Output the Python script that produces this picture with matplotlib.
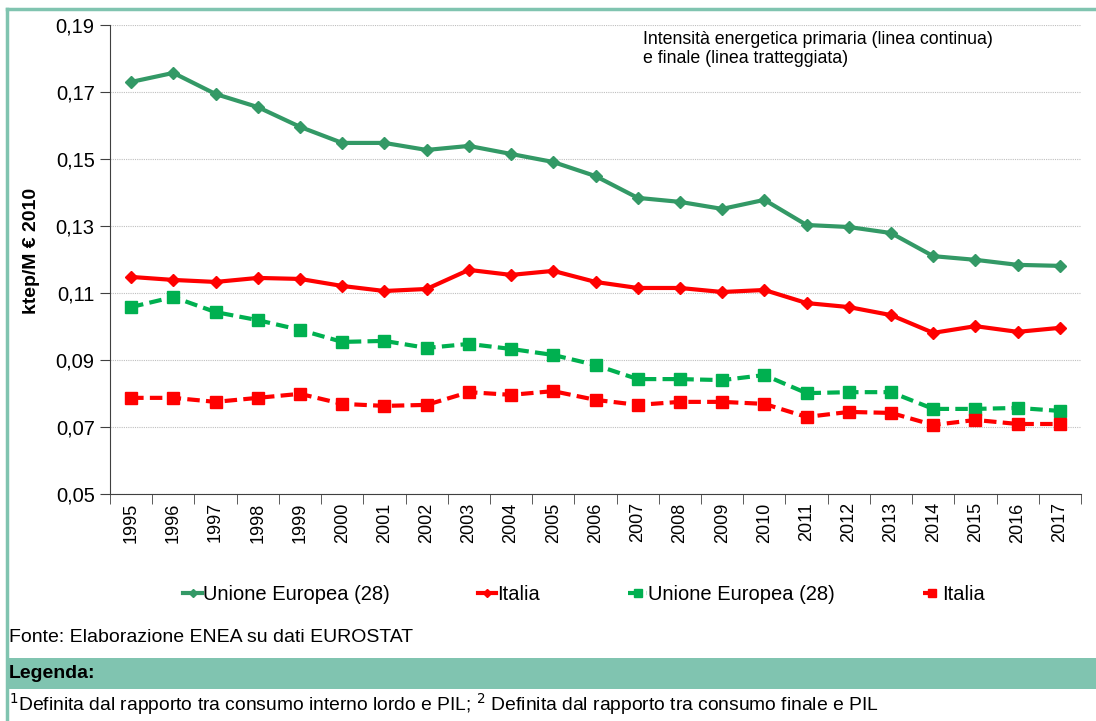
import matplotlib
matplotlib.use('Agg')
import matplotlib.pyplot as plt
from matplotlib.patches import Rectangle
from matplotlib.lines import Line2D

years = [str(y) for y in range(1995, 2018)]

ue_primaria = [0.1730, 0.1757, 0.1694, 0.1655, 0.1596, 0.1548, 0.1548, 0.1527,
               0.1539, 0.1515, 0.1491, 0.1449, 0.1384, 0.1372, 0.1351, 0.1378,
               0.1303, 0.1297, 0.1279, 0.1210, 0.1199, 0.1184, 0.1181]
it_primaria = [0.1148, 0.1139, 0.1133, 0.1145, 0.1142, 0.1121, 0.1106, 0.1112,
               0.1169, 0.1154, 0.1166, 0.1133, 0.1115, 0.1115, 0.1103, 0.1109,
               0.1070, 0.1058, 0.1034, 0.0981, 0.1001, 0.0984, 0.0996]
ue_finale = [0.1058, 0.1088, 0.1043, 0.1019, 0.0990, 0.0954, 0.0957, 0.0936,
             0.0948, 0.0933, 0.0915, 0.0885, 0.0843, 0.0843, 0.0840, 0.0855,
             0.0801, 0.0804, 0.0804, 0.0754, 0.0754, 0.0757, 0.0748]
it_finale = [0.0787, 0.0787, 0.0775, 0.0787, 0.0799, 0.0769, 0.0763, 0.0766,
             0.0804, 0.0796, 0.0807, 0.0781, 0.0766, 0.0775, 0.0775, 0.0769,
             0.0730, 0.0745, 0.0742, 0.0706, 0.0721, 0.0709, 0.0709]

y_ticks = [0.05, 0.07, 0.09, 0.11, 0.13, 0.15, 0.17, 0.19]
legend_labels = ['Unione Europea (28)', 'Italia', 'Unione Europea (28)', 'Italia']

GREEN1 = '#339966'
GREEN2 = '#00B050'
RED = '#FF0000'
TEAL = '#80C4B0'

plt.rcParams['font.family'] = ['Liberation Sans', 'DejaVu Sans']

fig = plt.figure(figsize=(10.96, 7.21), dpi=100)
ax = fig.add_axes([110/1096, 1-494/721, (1081-110)/1096, (494-25)/721])

x = list(range(len(years)))
l1, = ax.plot(x, ue_primaria, color=GREEN1, lw=3, marker='D', ms=6, zorder=3)
l2, = ax.plot(x, it_primaria, color=RED, lw=3, marker='D', ms=6, zorder=3)
l3, = ax.plot(x, ue_finale, color=GREEN2, lw=3, ls=(0, (3, 1.5)), marker='s', ms=8, zorder=3)
l4, = ax.plot(x, it_finale, color=RED, lw=3, ls=(0, (3, 1.5)), marker='s', ms=8, zorder=3)

ax.set_xlim(-0.5, len(years) - 0.5)
ax.set_ylim(0.05, 0.19)
ax.set_yticks(y_ticks)
ax.set_yticklabels([('%.2f' % v).replace('.', ',') for v in y_ticks], fontsize=14.5)
ax.set_xticks(x)
ax.set_xticklabels(years, rotation=90, fontsize=13)
ax.set_xticks([i - 0.5 for i in range(len(years) + 1)], minor=True)
ax.tick_params(axis='x', which='major', length=0, pad=6)
ax.tick_params(axis='x', which='minor', length=7, direction='out', color='#404040')
ax.tick_params(axis='y', length=7, direction='out', color='#404040', pad=4)

ax.grid(axis='y', color='#BFBFBF', lw=0.8, ls=(0, (1, 1)))
ax.set_axisbelow(True)
for s in ['top', 'right']:
    ax.spines[s].set_visible(False)
for s in ['left', 'bottom']:
    ax.spines[s].set_color('#404040')

ax.set_ylabel('ktep/M € 2010', fontsize=14, fontweight='bold')
ax.yaxis.set_label_coords(-70/971, 0.518)

ax.text(643/1096, 1-31/721, 'Intensità energetica primaria (linea continua)\ne finale (linea tratteggiata)',
        transform=fig.transFigure, fontsize=12.8, va='top', ha='left', linespacing=1.15)

fig.legend([l1, l2, l3, l4], legend_labels, loc='center', bbox_to_anchor=(0.533, 1-595/721),
           ncol=4, frameon=False, fontsize=14.5, handlelength=0.9, handletextpad=0.05,
           columnspacing=4.4, markerscale=0.7)

# cornice esterna
fig.add_artist(Line2D([7/1096, 1], [1-9/721, 1-9/721], color=TEAL, lw=2.5, transform=fig.transFigure))
fig.add_artist(Line2D([7/1096, 7/1096], [0, 1-9/721], color=TEAL, lw=2.5, transform=fig.transFigure))

fig.text(9/1096, 1-638/721, 'Fonte: Elaborazione ENEA su dati EUROSTAT', fontsize=14, va='center')
fig.add_artist(Rectangle((8/1096, 1-689/721), 1, 31/721, color=TEAL, transform=fig.transFigure, lw=0))
fig.text(9/1096, 1-673/721, 'Legenda:', fontsize=14, fontweight='bold', va='center')
fig.text(9/1096, 1-704/721, r'$^{1}$Definita dal rapporto tra consumo interno lordo e PIL; $^{2}$ Definita dal rapporto tra consumo finale e PIL',
         fontsize=13.9, va='center')

fig.savefig('out.png', dpi=100)
